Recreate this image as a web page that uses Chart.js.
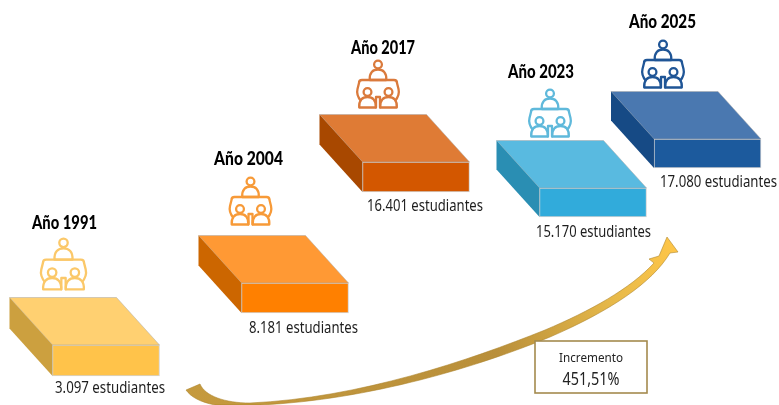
<!DOCTYPE html>
<html><head><meta charset="utf-8">
<style>html,body{margin:0;padding:0;background:#fff}#w{width:779px;height:405px}canvas{display:block}</style>
<script src="https://cdn.jsdelivr.net/npm/chart.js@4/dist/chart.umd.min.js"></script>
</head><body><div id="w"><canvas id="c" width="779" height="405"></canvas></div>
<script>
const years = ['Año 1991','Año 2004','Año 2017','Año 2023','Año 2025'];
const students = ['3.097','8.181','16.401','15.170','17.080'];
const blockCentre = [106,295,416,593,707.5];
const blockFloor = [29,92,213,188,237];
const blockCeil = [60,122,243,217,266];
const frontColors = ['#FFC34A','#FF8000','#D35700','#31ABDB','#1C5A9D'];
const topColors = ['#FFD071','#FF9934','#DF7B35','#59BAE0','#4A78B0'];
const sideColors = ['#CCA03F','#CC6600','#A84800','#2A8EB3','#164A85'];
const iconColors = ['#FBC869','#F79A38','#DA7A3C','#5FB9DB','#1F5596'];
const incrementTitle = 'Incremento';
const incrementValue = '451,51%';

/* page layout of the annotations (pixels) */
const layout = {
  depthX: 43, depthY: 47.5,
  title: [[64.5,228.5,65],[248.5,164.5,69],[383,53.5,64],[541,77.5,66],[662.5,27.5,67]],
  label: [[55,393,110],[249,333,109],[367,211,116],[536,237,115],[660,187,117]],
  icon: [[63.5,238,53],[250.5,177,49],[378,60,49],[550,89,49],[663,40,49]]
};

function person(ctx,cx,headY,s){
  ctx.beginPath();ctx.arc(cx,headY,3.9*s,0,Math.PI*2);ctx.fillStyle='#fff';ctx.fill();ctx.stroke();
  const top=headY+5*s, bot=headY+15.5*s;
  ctx.beginPath();
  ctx.moveTo(cx-8.3*s,bot);
  ctx.bezierCurveTo(cx-8.8*s,top+3*s,cx-5*s,top,cx,top);
  ctx.bezierCurveTo(cx+5*s,top,cx+8.8*s,top+3*s,cx+8.3*s,bot);
  ctx.closePath();ctx.fill();ctx.stroke();
}
function drawIcon(ctx,cx,top,h,color){
  const s=h/49;
  ctx.save();ctx.strokeStyle=color;ctx.lineWidth=2.3;ctx.lineJoin='round';ctx.lineCap='round';
  const ty=top+20*s;
  person(ctx,cx,top+4.5*s,s);
  ctx.beginPath();
  ctx.moveTo(cx-17*s,top+41*s);
  ctx.quadraticCurveTo(cx-22*s,top+35*s,cx-20.5*s,top+29*s);
  ctx.lineTo(cx-19*s,ty+3*s);
  ctx.quadraticCurveTo(cx-19*s,ty,cx-16*s,ty);
  ctx.lineTo(cx+16*s,ty);
  ctx.quadraticCurveTo(cx+19*s,ty,cx+19*s,ty+3*s);
  ctx.lineTo(cx+20.5*s,top+29*s);
  ctx.quadraticCurveTo(cx+22*s,top+35*s,cx+17*s,top+41*s);
  ctx.stroke();
  ctx.beginPath();ctx.moveTo(cx-2*s,top+37*s);ctx.lineTo(cx+2*s,top+37*s);
  ctx.moveTo(cx-2*s,top+37*s);ctx.lineTo(cx-2*s,top+47.5*s);
  ctx.moveTo(cx+2*s,top+37*s);ctx.lineTo(cx+2*s,top+47.5*s);ctx.stroke();
  person(ctx,cx-10.5*s,top+32*s,s);
  person(ctx,cx+10.5*s,top+32*s,s);
  ctx.restore();
}
const blocks3d = {
  id:'blocks3d',
  beforeDatasetsDraw(chart){
    const ctx=chart.ctx, els=chart.getDatasetMeta(0).data, dx=layout.depthX, dy=layout.depthY;
    els.forEach((el,i)=>{
      const l=el.x-el.width/2, r=el.x+el.width/2, t=el.y, b=el.base;
      ctx.save();ctx.lineWidth=1;ctx.strokeStyle='rgba(170,170,170,.5)';
      ctx.fillStyle=topColors[i];ctx.beginPath();
      ctx.moveTo(l,t);ctx.lineTo(r,t);ctx.lineTo(r-dx,t-dy);ctx.lineTo(l-dx,t-dy);ctx.closePath();ctx.fill();ctx.stroke();
      ctx.fillStyle=sideColors[i];ctx.beginPath();
      ctx.moveTo(l,t);ctx.lineTo(l-dx,t-dy);ctx.lineTo(l-dx,b-dy);ctx.lineTo(l,b);ctx.closePath();ctx.fill();
      ctx.restore();
    });
  },
  afterDatasetsDraw(chart){
    const ctx=chart.ctx;
    years.forEach((y,i)=>{
      const [ix,iy,ih]=layout.icon[i]; drawIcon(ctx,ix,iy,ih,iconColors[i]);
      const [tx,ty,tw]=layout.title[i];
      ctx.font='900 18px Lato';ctx.fillStyle='#000';ctx.textAlign='center';ctx.textBaseline='alphabetic';
      ctx.fillText(y,tx,ty,tw);
      const [lx,ly,lw]=layout.label[i];
      ctx.font='15.5px "Noto Sans"';ctx.fillStyle='#1e1e1e';ctx.textAlign='left';
      ctx.fillText(students[i]+' estudiantes',lx,ly,lw);
    });
    // growth arrow
    const g=ctx.createLinearGradient(187,400,678,240);
    g.addColorStop(0,'#C59A3E');g.addColorStop(.6,'#B98F3A');g.addColorStop(.85,'#E8BA4A');g.addColorStop(1,'#FFC648');
    ctx.save();ctx.fillStyle=g;ctx.strokeStyle='rgba(170,130,40,.7)';ctx.lineWidth=.8;ctx.lineJoin='round';ctx.beginPath();
    ctx.moveTo(186,390);ctx.lineTo(200,384);
    ctx.bezierCurveTo(205,396,225,403,250,403);
    ctx.bezierCurveTo(360,398,470,360,545,330);
    ctx.bezierCurveTo(590,311,630,289,654,263);
    ctx.lineTo(649,259);ctx.lineTo(659,256);ctx.lineTo(667,237);ctx.lineTo(678,252);ctx.lineTo(670,253);
    ctx.bezierCurveTo(652,283,610,311,550,337);
    ctx.bezierCurveTo(480,366,370,400,260,405);
    ctx.lineTo(215,405);
    ctx.bezierCurveTo(200,402,191,397,186,390);
    ctx.closePath();ctx.fill();ctx.stroke();ctx.restore();
    // increment box
    ctx.save();ctx.fillStyle='#fff';ctx.strokeStyle='#A48A4E';ctx.lineWidth=1.6;
    ctx.fillRect(535,341,112,52);ctx.strokeRect(535,341,112,52);
    ctx.fillStyle='#222';ctx.textAlign='center';ctx.textBaseline='alphabetic';
    ctx.font='13px "Noto Sans"';ctx.fillText(incrementTitle,591,362,64);
    ctx.font='18px "Noto Sans"';ctx.fillText(incrementValue,591,384.5,57);
    ctx.restore();
  }
};
new Chart(document.getElementById('c'),{
  type:'bar',
  data:{datasets:[{
    data:blockCentre.map((x,i)=>({x,y:[blockFloor[i],blockCeil[i]]})),
    backgroundColor:frontColors,borderColor:'rgba(170,170,170,.5)',borderWidth:1,borderSkipped:false,
    barThickness:107
  }]},
  options:{
    responsive:false,animation:false,
    layout:{padding:0},
    plugins:{legend:{display:false},tooltip:{enabled:false},title:{display:false}},
    scales:{
      x:{type:'linear',min:0,max:779,display:false,offset:false},
      y:{type:'linear',min:0,max:405,display:false}
    }
  },
  plugins:[blocks3d]
});
</script></body></html>
